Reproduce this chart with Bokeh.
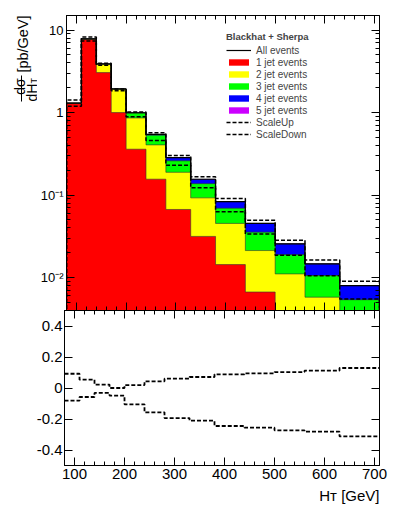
import numpy as np
from bokeh.plotting import figure
from bokeh.models import (Range1d, LinearAxis, LogAxis, FixedTicker, Legend,
                          LegendItem, Label, BoxAnnotation, Title)
from bokeh.layouts import column, row
from bokeh.embed import file_html
from bokeh.resources import INLINE

# ---------------- data ----------------
edges = [80, 110, 140, 170, 200, 240, 280, 330, 380, 440, 500, 560, 630, 710]
jet1 = [1.30, 7.70, 3.05, 1.00, 0.36, 0.156, 0.067, 0.0316, 0.0144, 0.0067, 0.0035, 0.0018, 0.0009]
jet2 = [0.0, 0.10, 0.80, 0.92, 0.50, 0.25, 0.122, 0.061, 0.031, 0.0146, 0.0076, 0.0040, 0.0021]
jet3 = [0.0, 0.02, 0.02, 0.01, 0.13, 0.127, 0.071, 0.045, 0.024, 0.0143, 0.0079, 0.0048, 0.0024]
jet4 = [0.0, 0.01, 0.01, 0.005, 0.005, 0.012, 0.025, 0.018, 0.014, 0.0098, 0.0067, 0.0041, 0.0026]
jet5 = [0.0, 0.0, 0.0, 0.0, 0.0, 0.0, 0.0, 0.0, 0.0, 0.0, 0.0, 0.0, 0.0]
scale_up_ratio = [0.092, 0.054, 0.022, 0.0, 0.019, 0.043, 0.060, 0.071, 0.088, 0.095, 0.103, 0.112, 0.129]
scale_down_ratio = [-0.082, -0.058, -0.032, -0.049, -0.105, -0.157, -0.194, -0.211, -0.245, -0.256, -0.273, -0.282, -0.312]

layer_names = ["1 jet events", "2 jet events", "3 jet events", "4 jet events", "5 jet events"]
layer_colors = ["#ff0000", "#ffff00", "#00ff00", "#0000ff", "#cc00ff"]
x_ticks = [100, 200, 300, 400, 500, 600, 700]
x_minor = [v for v in range(80, 720, 20)]
top_y_ticks = [0.01, 0.1, 1, 10]
top_y_labels = ["10⁻²", "10⁻¹", "1", "10"]
top_y_minor = [m * 10.0 ** e for e in range(-3, 2) for m in range(2, 10)]
ratio_ticks = [-0.4, -0.2, 0, 0.2, 0.4]
ratio_labels = ["-0.4", "-0.2", "0", "0.2", "0.4"]
x_title = "Hᴛ [GeV]"

FONT = "Liberation Sans"
X0, X1 = 80, 710
YLO, YHI = 0.004, 15.0
BASE = YLO * 0.1

FULL_W = 391
LEFT_W = 37          # width of the y-title strip
FRAME_L = 64         # page x of the plot frames
TOP_H = 310
RATIO_H = 204


def style_axis(ax, major_ticks, minor_ticks, labels=None, size="13px",
               major_in=8, minor_in=4, standoff=4):
    ax.ticker = FixedTicker(ticks=major_ticks, minor_ticks=minor_ticks)
    ax.major_tick_in = major_in
    ax.major_tick_out = 0
    ax.minor_tick_in = minor_in
    ax.minor_tick_out = 0
    ax.axis_line_color = "black"
    ax.major_tick_line_color = "black"
    ax.minor_tick_line_color = "black"
    if labels is None:
        ax.major_label_overrides = {t: "" for t in major_ticks}
        ax.major_label_text_font_size = "1px"
        ax.major_label_text_alpha = 0
        ax.major_label_standoff = 0
    else:
        ax.major_label_overrides = {t: l for t, l in zip(major_ticks, labels)}
        ax.major_label_text_font = FONT
        ax.major_label_text_font_size = size
        ax.major_label_text_color = "black"
        ax.major_label_standoff = standoff


def step_xy(vals, base):
    xs = [edges[0]] + list(edges)
    ys = [base] + list(vals) + [base]
    return xs, ys


def blank_fig(w, h):
    f = figure(width=w, height=h, x_range=Range1d(0, w), y_range=Range1d(0, h),
               title=None, output_backend="svg", toolbar_location=None,
               x_axis_location=None, y_axis_location=None,
               min_border_left=0, min_border_right=0, min_border_top=0,
               min_border_bottom=0)
    f.grid.visible = False
    f.outline_line_color = None
    return f


# ---------------- top panel ----------------
p1 = figure(width=FULL_W - LEFT_W, height=TOP_H, x_range=Range1d(X0, X1),
            y_range=Range1d(YLO, YHI), y_axis_type="log",
            output_backend="svg", toolbar_location=None,
            min_border_left=FRAME_L - LEFT_W, min_border_right=12, min_border_top=15,
            min_border_bottom=0)
p1.grid.visible = False
p1.outline_line_color = "black"
p1.background_fill_color = "white"

layers = np.array([jet1, jet2, jet3, jet4, jet5])
cum = np.cumsum(layers, axis=0)
total = cum[-1]

fills = {}
for k in reversed(range(len(layers))):
    y2 = list(cum[k]) + [cum[k][-1]]
    fills[k] = p1.varea_step(x=edges, y1=[BASE] * len(edges), y2=y2, step_mode="after",
                             fill_color=layer_colors[k])
for k in reversed(range(len(layers) - 1)):
    xs, ys = step_xy(cum[k], BASE)
    p1.step(x=xs, y=ys, mode="after", line_color="#333333", line_width=0.6)

xs, ys = step_xy(total, BASE)
r_total = p1.step(x=xs, y=ys, mode="after", line_color="black", line_width=1.2)

up_vals = total * (1 + np.array(scale_up_ratio))
down_vals = total * (1 + np.array(scale_down_ratio))
xs, ys = step_xy(up_vals, BASE)
r_up = p1.step(x=xs, y=ys, mode="after", line_color="black", line_width=1.5,
               line_dash="4 2")
xs, ys = step_xy(down_vals, BASE)
r_down = p1.step(x=xs, y=ys, mode="after", line_color="black", line_width=1.5,
                 line_dash="4 2")

items = [LegendItem(label="All events", renderers=[r_total])]
items += [LegendItem(label=layer_names[k], renderers=[fills[k]]) for k in range(len(layers))]
items += [LegendItem(label="ScaleUp", renderers=[r_up]),
          LegendItem(label="ScaleDown", renderers=[r_down])]
legend = Legend(items=items, location=(160, 170), glyph_width=25, glyph_height=8,
                label_height=12, label_standoff=5, spacing=0, padding=0, margin=0,
                border_line_color=None, background_fill_alpha=0,
                label_text_font=FONT, label_text_font_size="10px",
                title="Blackhat + Sherpa", title_text_font=FONT,
                title_text_font_style="bold", title_text_font_size="9.5px",
                title_standoff=2)
p1.add_layout(legend)

style_axis(p1.xaxis[0], x_ticks, x_minor)
style_axis(p1.yaxis[0], top_y_ticks, top_y_minor, top_y_labels, "13px", standoff=3)
ax_top = LinearAxis()
style_axis(ax_top, x_ticks, x_minor)
p1.add_layout(ax_top, "above")
ax_right = LogAxis()
style_axis(ax_right, top_y_ticks, top_y_minor)
p1.add_layout(ax_right, "right")

# ---------------- y title strip: d(sigma)/dH_T [pb/GeV] ----------------
yt = blank_fig(LEFT_W, TOP_H)
ang = np.pi / 2
yt.add_layout(Label(x=22, y=TOP_H - 43.5, x_units="screen", y_units="screen",
                    text="[pb/GeV]", angle=ang, text_align="center",
                    text_baseline="alphabetic", text_font=FONT,
                    text_font_size="14.5px", text_color="black"))
yt.add_layout(Label(x=19.5, y=TOP_H - 86, x_units="screen", y_units="screen",
                    text="dσ", angle=ang, text_align="center",
                    text_baseline="alphabetic", text_font=FONT,
                    text_font_size="14px", text_color="black"))
yt.add_layout(BoxAnnotation(left=20.5, right=21.5, bottom=TOP_H - 101, top=TOP_H - 75,
                            left_units="screen", right_units="screen",
                            bottom_units="screen", top_units="screen",
                            fill_color="black", fill_alpha=1, line_color=None))
yt.add_layout(Label(x=31, y=TOP_H - 101, x_units="screen", y_units="screen",
                    text="dH", angle=ang, text_align="left",
                    text_baseline="alphabetic", text_font=FONT,
                    text_font_size="14px", text_color="black"))
yt.add_layout(Label(x=33.5, y=TOP_H - 83, x_units="screen", y_units="screen",
                    text="T", angle=ang, text_align="left",
                    text_baseline="alphabetic", text_font=FONT,
                    text_font_size="9px", text_color="black"))

# ---------------- ratio panel ----------------
p2 = figure(width=FULL_W, height=RATIO_H, x_range=p1.x_range,
            y_range=Range1d(-0.5, 0.5), output_backend="svg", toolbar_location=None,
            min_border_left=FRAME_L, min_border_right=12, min_border_top=0,
            min_border_bottom=49)
p2.grid.visible = False
p2.outline_line_color = "black"

p2.step(x=edges, y=list(scale_up_ratio) + [scale_up_ratio[-1]],
        mode="after", line_color="black", line_width=1.8, line_dash="4 2")
p2.step(x=edges, y=list(scale_down_ratio) + [scale_down_ratio[-1]],
        mode="after", line_color="black", line_width=1.8, line_dash="4 2")

style_axis(p2.xaxis[0], x_ticks, x_minor, [str(v) for v in x_ticks], "15px", standoff=3)
style_axis(p2.yaxis[0], ratio_ticks, [], ratio_labels, "15px", standoff=2)
ax2_top = LinearAxis()
style_axis(ax2_top, x_ticks, x_minor)
p2.add_layout(ax2_top, "above")
ax2_right = LinearAxis()
style_axis(ax2_right, ratio_ticks, [])
p2.add_layout(ax2_right, "right")

p2.add_layout(Title(text=x_title, align="right", text_font=FONT,
                    text_font_size="15px", text_font_style="normal",
                    text_color="black", standoff=6), "below")

layout = column(row(yt, p1), p2)
open("out.html", "w").write(file_html(layout, INLINE))
